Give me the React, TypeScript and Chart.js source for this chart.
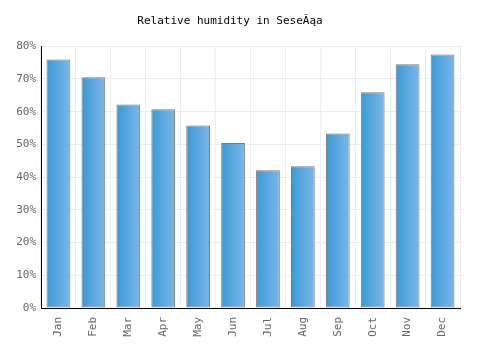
import React, { useEffect, useRef } from "react";
import { Chart, registerables } from "chart.js";

Chart.register(...registerables);

const titleText = "Relative humidity in SeseĂąa";
const months = ["Jan", "Feb", "Mar", "Apr", "May", "Jun", "Jul", "Aug", "Sep", "Oct", "Nov", "Dec"];
const humidity = [75.9, 70.5, 62.2, 60.7, 55.8, 50.4, 42.1, 43.3, 53.3, 65.9, 74.5, 77.5];
const yTicks = [0, 10, 20, 30, 40, 50, 60, 70, 80];

const FONT = "'DejaVu Sans Mono', monospace";

const gradientPlugin = {
  id: "barGradient",
  beforeDatasetsDraw(chart: any) {
    const meta = chart.getDatasetMeta(0);
    meta.data.forEach((el: any) => {
      const w = el.width;
      const g = chart.ctx.createLinearGradient(el.x - w / 2, 0, el.x + w / 2, 0);
      g.addColorStop(0, "#3a9ad4");
      g.addColorStop(1, "#7cb7eb");
      el.options = Object.assign({}, el.options, { backgroundColor: g });
    });
  },
};

export default function App() {
  const ref = useRef<HTMLCanvasElement | null>(null);

  useEffect(() => {
    document.body.style.margin = "0";
    const canvas = ref.current;
    if (!canvas) return;
    const chart = new Chart(canvas, {
      type: "bar",
      data: {
        labels: months,
        datasets: [
          {
            data: humidity,
            backgroundColor: (ctx: any) => "#5aaae0",
            borderColor: "#7a7a7a",
            borderWidth: 1,
            borderSkipped: false,
            barPercentage: 0.68,
            categoryPercentage: 1,
          },
        ],
      },
      plugins: [gradientPlugin],
      options: {
        responsive: false,
        animation: false,
        layout: { padding: { left: 0, right: 40, top: 0, bottom: 0 } },
        plugins: {
          legend: { display: false },
          tooltip: { enabled: false },
          title: {
            display: true,
            text: titleText,
            color: "#000",
            font: { family: FONT, size: 11, weight: "normal" },
            padding: { top: 15, bottom: 18 },
          },
        },
        scales: {
          x: {
            grid: { color: "#eeeeee", drawTicks: false, offset: true },
            border: { color: "#000", width: 1 },
            ticks: {
              color: "#666",
              font: { family: FONT, size: 11 },
              minRotation: 90,
              maxRotation: 90,
              padding: 9,
            },
            afterFit: (s: any) => {
              s.height = 42;
            },
          },
          y: {
            min: 0,
            max: 80,
            grid: { color: "#eeeeee", drawTicks: false },
            border: { color: "#000", width: 1 },
            afterBuildTicks: (s: any) => {
              s.ticks = yTicks.map((v) => ({ value: v }));
            },
            ticks: {
              color: "#666",
              font: { family: FONT, size: 11 },
              padding: 5,
              callback: (v: any) => `${v}%`,
            },
            afterFit: (s: any) => {
              s.width = 41;
            },
          },
        },
      },
    });
    return () => chart.destroy();
  }, []);

  return <canvas ref={ref} width={500} height={350} style={{ display: "block", width: 500, height: 350 }} />;
}
